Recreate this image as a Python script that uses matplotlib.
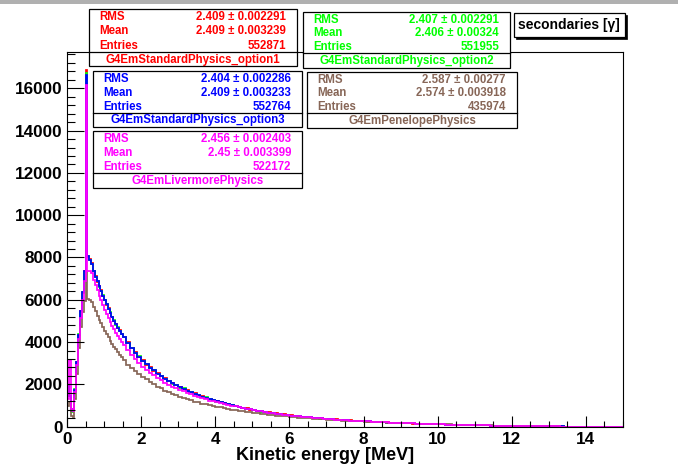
import numpy as np
import matplotlib
matplotlib.use("Agg")
import matplotlib.pyplot as plt
from matplotlib.patches import Rectangle
from matplotlib.ticker import MultipleLocator

# ---------------- data ----------------
# bins: 0.05 MeV wide from 0 to 1.5 MeV, then 0.1 MeV wide up to 15 MeV
fine_width = 0.05
coarse_width = 0.1
split_energy = 1.5
max_energy = 15.0

red_lo = [1980, 1430, 740, 800, 1720, 3080, 4320, 5480, 6330, 7380,
          16865, 8020, 7930, 7720, 7370, 7120, 6860, 6640, 6440, 6190,
          6010, 5770, 5600, 5370, 5210, 5000, 4870, 4680, 4550, 4380]
red_hi = [4240, 3990, 3710, 3510, 3290, 3130, 2940, 2810, 2640, 2530,
          2380, 2280, 2150, 2070, 1950, 1880, 1780, 1720, 1620, 1570,
          1480, 1440, 1360, 1320, 1250, 1220, 1150, 1120, 1060, 1040,
          990, 940, 880, 865, 810, 795, 745, 735, 690, 672,
          640, 625, 590, 578, 545, 535, 505, 497, 470, 462,
          436, 428, 405, 398, 376, 370, 350, 344, 326, 320,
          302, 297, 281, 276, 262, 256, 243, 238, 225, 220,
          208, 203, 192, 187, 177, 172, 163, 159, 150, 146,
          137, 134, 126, 122, 115, 112, 105, 102, 96, 93,
          87, 84, 79, 76, 71, 69, 64, 62, 58, 56,
          51, 49, 46, 43, 41, 38, 36, 33, 31, 28,
          26, 24, 22, 20, 18, 16, 14, 12, 10, 8,
          6, 5, 3, 1, 0, 0, 0, 0, 0, 0, 0, 0, 0, 0, 0]

green_lo = [1930, 1470, 700, 830, 1760, 3020, 4370, 5420, 6370, 7330,
            16740, 8060, 7880, 7690, 7340, 7090, 6900, 6620, 6400, 6210,
            5970, 5800, 5560, 5400, 5170, 5030, 4830, 4700, 4510, 4400]
green_hi = [4250, 3960, 3740, 3480, 3320, 3100, 2970, 2780, 2670, 2500,
            2410, 2250, 2180, 2040, 1980, 1850, 1810, 1690, 1650, 1540,
            1510, 1410, 1390, 1290, 1280, 1190, 1180, 1090, 1090, 1010,
            980, 915, 905, 840, 830, 775, 765, 715, 705, 658,
            652, 608, 603, 562, 559, 521, 519, 483, 481, 448,
            447, 416, 415, 387, 386, 359, 359, 334, 333, 310,
            310, 288, 288, 268, 268, 249, 248, 231, 230, 213,
            212, 197, 197, 182, 181, 167, 167, 154, 154, 141,
            141, 130, 129, 119, 118, 108, 108, 99, 98, 90,
            89, 82, 81, 74, 73, 66, 66, 60, 59, 53,
            53, 47, 47, 42, 41, 37, 36, 32, 31, 27,
            27, 23, 23, 19, 19, 15, 15, 11, 11, 7,
            7, 4, 2, 0, 0, 0, 0, 0, 0, 0, 0, 0, 0, 0, 0]

blue_lo = [1950, 1450, 720, 820, 1750, 3050, 4350, 5450, 6350, 7350,
           16630, 8050, 7900, 7700, 7350, 7100, 6880, 6650, 6420, 6200,
           5990, 5780, 5580, 5380, 5190, 5010, 4850, 4690, 4530, 4390]
blue_hi = [4260, 3970, 3730, 3490, 3310, 3110, 2960, 2790, 2660, 2510,
           2400, 2260, 2170, 2050, 1970, 1860, 1800, 1700, 1640, 1550,
           1500, 1420, 1380, 1300, 1270, 1200, 1170, 1100, 1080, 1020,
           970, 920, 900, 845, 825, 780, 760, 720, 700, 662,
           648, 612, 600, 566, 556, 525, 516, 487, 478, 452,
           444, 419, 413, 390, 384, 361, 357, 336, 331, 312,
           308, 290, 286, 270, 266, 250, 247, 232, 229, 214,
           211, 198, 196, 183, 180, 168, 166, 155, 153, 142,
           141, 130, 129, 119, 118, 108, 108, 99, 98, 90,
           89, 82, 81, 74, 73, 66, 66, 60, 59, 53,
           53, 47, 47, 42, 41, 37, 36, 32, 31, 27,
           27, 23, 23, 19, 19, 15, 15, 11, 11, 7,
           7, 4, 2, 0, 0, 0, 0, 0, 0, 0, 0, 0, 0, 0, 0]

brown_lo = [1000, 1150, 520, 480, 1300, 2500, 3700, 4700, 5400, 5950,
            7350, 6050, 6000, 5900, 5650, 5450, 5250, 5060, 4880, 4700,
            4540, 4380, 4220, 4070, 3930, 3790, 3660, 3530, 3400, 3280]
brown_hi = [3160, 2940, 2790, 2610, 2490, 2340, 2240, 2100, 2010, 1890,
            1810, 1705, 1645, 1550, 1500, 1410, 1370, 1290, 1255, 1185,
            1155, 1090, 1065, 1005, 985, 930, 915, 862, 850, 800,
            790, 742, 735, 690, 686, 642, 640, 598, 597, 557,
            557, 520, 520, 485, 486, 455, 452, 425, 422, 397,
            395, 372, 370, 349, 346, 327, 325, 307, 305, 288,
            287, 270, 270, 254, 254, 238, 238, 224, 223, 210,
            208, 197, 195, 184, 182, 172, 170, 160, 158, 149,
            146, 138, 135, 128, 124, 118, 114, 108, 105, 99,
            95, 90, 86, 81, 78, 73, 70, 65, 62, 58,
            55, 51, 48, 45, 42, 39, 36, 33, 31, 28,
            26, 23, 21, 19, 17, 15, 13, 11, 9, 7,
            5, 3, 2, 0, 0, 0, 0, 0, 0, 0, 0, 0, 0, 0, 0]

magenta_lo = [1300, 3150, 820, 760, 1650, 2900, 4150, 5150, 6000, 6900,
              16160, 7380, 7380, 7250, 6950, 6700, 6450, 6200, 5970, 5750,
              5540, 5340, 5140, 4950, 4770, 4600, 4440, 4290, 4140, 4000]
magenta_hi = [3870, 3610, 3410, 3190, 3020, 2830, 2700, 2540, 2430, 2290,
              2190, 2070, 1990, 1890, 1815, 1725, 1665, 1585, 1530, 1455,
              1405, 1340, 1295, 1235, 1200, 1145, 1110, 1060, 1030, 985,
              960, 915, 890, 845, 822, 785, 760, 722, 698, 664,
              645, 614, 597, 568, 553, 526, 513, 490, 474, 456,
              440, 422, 410, 392, 382, 364, 355, 338, 330, 314,
              306, 292, 285, 272, 265, 252, 246, 234, 228, 216,
              210, 200, 194, 185, 179, 170, 165, 157, 152, 144,
              140, 132, 128, 121, 117, 110, 107, 100, 97, 91,
              88, 83, 80, 75, 72, 67, 65, 60, 58, 54,
              52, 48, 46, 42, 40, 37, 35, 32, 30, 27,
              25, 23, 21, 19, 17, 15, 13, 11, 9, 7,
              5, 3, 1, 0, 0, 0, 0, 0, 0, 0, 0, 0, 0, 0, 0]

names = ["G4EmStandardPhysics_option1", "G4EmStandardPhysics_option2",
         "G4EmStandardPhysics_option3", "G4EmPenelopePhysics",
         "G4EmLivermorePhysics"]
rms_txt = ["2.409 \u00b1 0.002291", "2.407 \u00b1 0.002291", "2.404 \u00b1 0.002286",
           "2.587 \u00b1 0.00277", "2.456 \u00b1 0.002403"]
mean_txt = ["2.409 \u00b1 0.003239", "2.406 \u00b1 0.00324", "2.409 \u00b1 0.003233",
            "2.574 \u00b1 0.003918", "2.45 \u00b1 0.003399"]
entries_txt = ["552871", "551955", "552764", "435974", "522172"]
colors = ["#ff0000", "#00ff00", "#0000ff", "#876657", "#ff00ff"]

title = "secondaries [\u03b3]"
xlabel = "Kinetic energy [MeV]"

# ---------------- figure ----------------
W, H = 678, 466
fig = plt.figure(figsize=(W / 100, H / 100), dpi=100)
fig.patch.set_facecolor("white")

FONT = "Liberation Sans"

def fx(x):
    return x / W

def fy(y):
    return 1 - y / H

# faint grey strip on the top edge (screenshot border)
fig.add_artist(Rectangle((0, fy(4)), 1, 4 / H, transform=fig.transFigure,
                         facecolor="#b0b0b0", edgecolor="none", zorder=0))

left, right, top, bottom = 67, 623, 52, 426.7
ax = fig.add_axes([fx(left), fy(bottom), fx(right - left), (bottom - top) / H])

edges = np.concatenate([np.arange(0, split_energy - 1e-9, fine_width),
                        np.arange(split_energy, max_energy + 1e-9, coarse_width)])

series = [(red_lo, red_hi), (green_lo, green_hi), (blue_lo, blue_hi),
          (brown_lo, brown_hi), (magenta_lo, magenta_hi)]
for (lo, hi), c in zip(series, colors):
    vals = np.array(lo + hi, dtype=float)
    ax.stairs(vals, edges, color=c, linewidth=1.25, baseline=0)

ax.set_xlim(0, 15)
ax.set_ylim(0, 17716)
ax.xaxis.set_major_locator(MultipleLocator(2))
ax.xaxis.set_minor_locator(MultipleLocator(0.5))
ax.yaxis.set_major_locator(MultipleLocator(2000))
ax.yaxis.set_minor_locator(MultipleLocator(400))
ax.tick_params(axis="both", which="both", direction="in", width=0.8, color="black")
ax.tick_params(axis="y", which="major", length=12.2, pad=3)
ax.tick_params(axis="y", which="minor", length=6.1)
ax.tick_params(axis="x", which="major", length=8, pad=4)
ax.tick_params(axis="x", which="minor", length=4)
for lab in ax.get_xticklabels() + ax.get_yticklabels():
    lab.set_fontfamily(FONT)
    lab.set_fontweight("bold")
    lab.set_fontsize(12.3)
for s in ax.spines.values():
    s.set_linewidth(0.8)

fig.text(fx(325.5), fy(455), xlabel, ha="center", va="center",
         fontsize=13, fontweight="bold", family=FONT)

# ---------------- stat boxes ----------------
# (x0, x1, top, separator, bottom) in pixels
boxes = [(89, 297, 9, 52, 66),
         (303, 510, 12, 53, 68),
         (93, 302, 71, 113, 127),
         (307, 517, 72, 113, 128),
         (93, 302, 131, 173, 188)]

def add_rect(x0, y0, x1, y1, fc="white", ec="black", lw=0.9, z=5):
    fig.add_artist(Rectangle((fx(x0), fy(y1)), (x1 - x0) / W, (y1 - y0) / H,
                             transform=fig.transFigure, facecolor=fc,
                             edgecolor=ec, linewidth=lw, zorder=z))

for i, (x0, x1, t, sep, b) in enumerate(boxes):
    add_rect(x0, t, x1, b)
    fig.add_artist(plt.Line2D([fx(x0), fx(x1)], [fy(sep), fy(sep)],
                              transform=fig.transFigure, color="black",
                              linewidth=0.9, zorder=6))
    c = colors[i]
    row_h = (sep - t) / 3
    for j, (lab, val) in enumerate(zip(["RMS", "Mean", "Entries"],
                                       [rms_txt[i], mean_txt[i], entries_txt[i]])):
        yc = t + row_h * (j + 0.5) + 1
        fig.text(fx(x0 + 10), fy(yc), lab, ha="left", va="center", color=c,
                 fontsize=8.3, fontweight="bold", family=FONT, zorder=7)
        fig.text(fx(x1 - 11), fy(yc), val, ha="right", va="center", color=c,
                 fontsize=8.3, fontweight="bold", family=FONT, zorder=7)
    fig.text(fx((x0 + x1) / 2), fy((sep + b) / 2 + 0.5), names[i], ha="center",
             va="center", color=c, fontsize=8.3, fontweight="bold",
             family=FONT, zorder=7)

# title box with small shadow
add_rect(516, 15, 627, 39, fc="black", ec="black", lw=0.5, z=4)
add_rect(514, 13, 625, 37)
fig.text(fx(569), fy(25.5), title, ha="center", va="center",
         fontsize=10, fontweight="bold", family=[FONT, "DejaVu Sans"], zorder=7)

fig.savefig("out.png", dpi=100)
